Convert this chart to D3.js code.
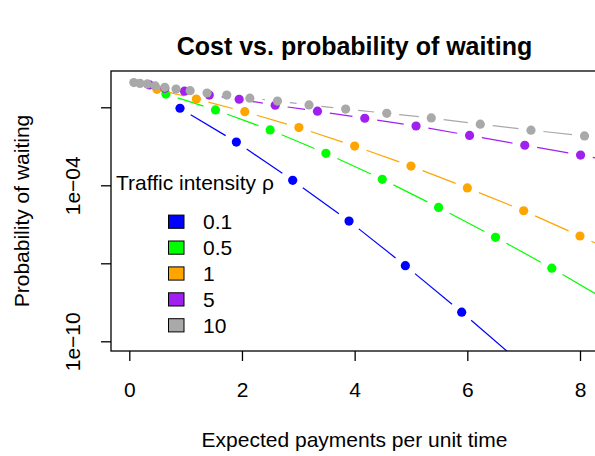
<!DOCTYPE html>
<html>
<head>
<meta charset="utf-8">
<script src="https://cdn.jsdelivr.net/npm/d3@7"></script>
<style>
  body { margin: 0; background: #fff; }
  text { font-family: "Liberation Sans", Arial, sans-serif; }
</style>
</head>
<body>
<div id="chart"></div>
<script>
// Cost vs. probability of waiting, one series per traffic intensity
var rhoLabels = ["0.1", "0.5", "1", "5", "10"];
var colors = ["#0000ff", "#00ff00", "#ffa500", "#a020f0", "#a9a9a9"];

// x = expected payments per unit time, p = probability of waiting
var x01 = [0.9, 1.9, 2.9, 3.9, 4.9, 5.9, 6.9];
var p01 = [0.092, 4.6e-3, 1.55e-4, 4.2e-6, 8.1e-8, 1.32e-9, 1.8e-11];

var x05 = [0.65, 1.53, 2.5, 3.49, 4.49, 5.49, 6.5, 7.5, 8.5];
var p05 = [0.324, 0.079, 0.0135, 1.7e-3, 1.7e-4, 1.41e-5, 1.0e-6, 6.5e-8, 3.5e-9];

var x1 = [0.49, 1.19, 2.05, 3.01, 4.0, 5.0, 6.0, 7.0, 8.0, 9.0];
var p1 = [0.49, 0.209, 0.0676, 0.0166, 3.24e-3, 5.5e-4, 7.9e-5, 1.05e-5, 1.12e-6, 1.12e-7];

var x5 = [0.36, 0.63, 0.98, 1.42, 1.95, 2.59, 3.34, 4.18, 5.09, 6.04, 7.02, 8.01, 9.0];
var p5 = [0.724, 0.537, 0.417, 0.295, 0.204, 0.12, 0.0708, 0.038, 0.0191, 8.3e-3, 3.47e-3, 1.45e-3, 5.75e-4];

var x10 = [0.08, 0.19, 0.32, 0.46, 0.63, 0.83, 1.08, 1.38, 1.73, 2.14, 2.63, 3.19, 3.84, 4.57, 5.36, 6.23, 7.13, 8.08, 9.05];
var p10 = [0.891, 0.832, 0.794, 0.661, 0.589, 0.501, 0.437, 0.355, 0.295, 0.224, 0.174, 0.123, 0.0851, 0.0589, 0.0389, 0.0224, 0.0132, 7.9e-3, 4.7e-3];

var xTicks = [0, 2, 4, 6, 8];
var yTicks = [1e-1, 1e-4, 1e-7, 1e-10];
var yTickLabels = ["", "1e\u221204", "", "1e\u221210"];

var seriesX = [x01, x05, x1, x5, x10];
var seriesP = [p01, p05, p1, p5, p10];

// svg area and plot box (box runs just past the right edge, as in the source)
var svgWidth = 595;
var svgHeight = 456;
var box = { left: 111, top: 71, right: 598, bottom: 351 };
var fontSize = 21;

var svg = d3.select("#chart")
  .append("svg")
  .attr("width", svgWidth)
  .attr("height", svgHeight);

var xScale = d3.scaleLinear().domain([0, 8]).range([129.3, 580]);
var yScale = d3.scaleLog().domain([1e-10, 1]).range([341.3, 81.3]);

svg.append("clipPath").attr("id", "plotclip")
  .append("rect")
  .attr("x", box.left).attr("y", box.top)
  .attr("width", box.right - box.left).attr("height", box.bottom - box.top);

var plot = svg.append("g").attr("clip-path", "url(#plotclip)");

// type = "b": segments stop short of each point
var gap = 12.5;
seriesX.forEach(function(xs, s) {
  var pts = xs.map(function(v, i) { return [xScale(v), yScale(seriesP[s][i])]; });
  var segs = [];
  for (var i = 0; i < pts.length - 1; i++) {
    var dx = pts[i + 1][0] - pts[i][0], dy = pts[i + 1][1] - pts[i][1];
    var len = Math.sqrt(dx * dx + dy * dy);
    if (len > 2 * gap) {
      var ux = dx / len, uy = dy / len;
      segs.push([pts[i][0] + ux * gap, pts[i][1] + uy * gap,
                 pts[i + 1][0] - ux * gap, pts[i + 1][1] - uy * gap]);
    }
  }
  var g = plot.append("g");
  g.selectAll("line")
    .data(segs)
    .enter()
    .append("line")
    .attr("x1", d => d[0]).attr("y1", d => d[1])
    .attr("x2", d => d[2]).attr("y2", d => d[3])
    .attr("stroke", colors[s])
    .attr("stroke-width", 1.2);
  g.selectAll("circle")
    .data(pts)
    .enter()
    .append("circle")
    .attr("cx", d => d[0])
    .attr("cy", d => d[1])
    .attr("r", 4.6)
    .attr("fill", colors[s]);
});

// box
svg.append("rect")
  .attr("x", box.left).attr("y", box.top)
  .attr("width", box.right - box.left).attr("height", box.bottom - box.top)
  .attr("fill", "none").attr("stroke", "#000").attr("stroke-width", 1.3);

// x axis
var xAxis = svg.append("g")
  .attr("transform", `translate(0, ${box.bottom})`)
  .call(d3.axisBottom(xScale).tickValues(xTicks).tickSize(10).tickSizeOuter(0).tickPadding(21));
xAxis.select(".domain").remove();
xAxis.selectAll("line").attr("stroke", "#000").attr("stroke-width", 1.3);
xAxis.selectAll("text")
  .attr("font-size", fontSize)
  .attr("font-family", "Liberation Sans, Arial, sans-serif")
  .attr("fill", "#000");

// y axis, labels turned parallel to the axis
var yAxis = svg.append("g")
  .attr("transform", `translate(${box.left}, 0)`)
  .call(d3.axisLeft(yScale).tickValues(yTicks).tickSize(10).tickSizeOuter(0)
    .tickFormat((d, i) => yTickLabels[i]));
yAxis.select(".domain").remove();
yAxis.selectAll("line").attr("stroke", "#000").attr("stroke-width", 1.3);
yAxis.selectAll("text")
  .attr("transform", "rotate(-90)")
  .attr("x", 0)
  .attr("y", -31)
  .attr("dy", 0)
  .attr("text-anchor", "middle")
  .attr("font-size", fontSize)
  .attr("font-family", "Liberation Sans, Arial, sans-serif")
  .attr("fill", "#000");

// titles
svg.append("text")
  .attr("x", (box.left + box.right) / 2)
  .attr("y", 55)
  .attr("text-anchor", "middle")
  .attr("font-size", 25)
  .attr("font-weight", "bold")
  .text("Cost vs. probability of waiting");

svg.append("text")
  .attr("x", (box.left + box.right) / 2)
  .attr("y", 447)
  .attr("text-anchor", "middle")
  .attr("font-size", fontSize)
  .text("Expected payments per unit time");

svg.append("text")
  .attr("transform", `translate(29, ${(box.top + box.bottom) / 2}) rotate(-90)`)
  .attr("text-anchor", "middle")
  .attr("font-size", fontSize)
  .text("Probability of waiting");

// legend
var legend = svg.append("g");
legend.append("text")
  .attr("x", 116)
  .attr("y", 190)
  .attr("font-size", fontSize)
  .text("Traffic intensity \u03c1");

var items = legend.selectAll("g.item")
  .data(rhoLabels)
  .enter()
  .append("g")
  .attr("class", "item")
  .attr("transform", (d, i) => `translate(0, ${221.7 + 25.9 * i})`);

items.append("rect")
  .attr("x", 168.5).attr("y", -6.6)
  .attr("width", 15.5).attr("height", 13.2)
  .attr("fill", (d, i) => colors[i])
  .attr("stroke", "#000")
  .attr("stroke-width", 1);

items.append("text")
  .attr("x", 203)
  .attr("y", 7.5)
  .attr("font-size", fontSize)
  .text(d => d);
</script>
</body>
</html>
